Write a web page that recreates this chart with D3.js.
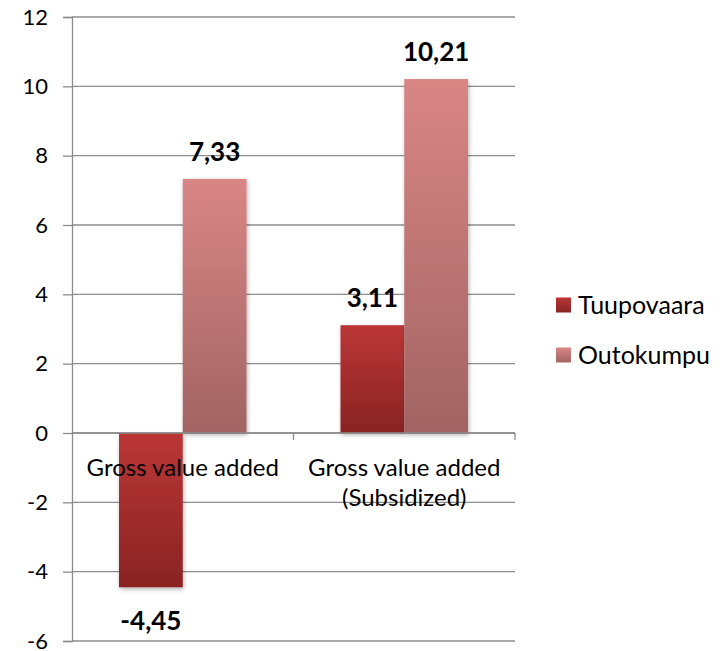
<!DOCTYPE html>
<html><head><meta charset="utf-8">
<script src="https://cdn.jsdelivr.net/npm/d3@7"></script>
<style>body{margin:0;background:#fff}svg{display:block}text{font-family:Lato,"Open Sans",sans-serif}</style>
</head><body><svg id="c" width="725" height="651"></svg>
<script>
const categories = [["Gross value added"], ["Gross value added", "(Subsidized)"]];
const seriesNames = ["Tuupovaara", "Outokumpu"];
const tuupovaara = [-4.45, 3.11];
const outokumpu = [7.33, 10.21];
const yTicks = [-6, -4, -2, 0, 2, 4, 6, 8, 10, 12];

const fmt = v => String(v.toFixed(2)).replace(".", ",");

const svg = d3.select("#c");
const L = 72, R = 515, T = 17, B = 641;
const y = d3.scaleLinear().domain([-6, 12]).range([B, T]);
const x0 = d3.scaleBand().domain([0, 1]).range([L, R]).paddingInner(0).paddingOuter(0);
const x1 = d3.scaleBand().domain([0, 1]).range([47, x0.bandwidth() - 47]);

const defs = svg.append("defs");
const g1 = defs.append("linearGradient").attr("id", "gT").attr("x1", 0).attr("y1", 0).attr("x2", 0).attr("y2", 1);
g1.append("stop").attr("offset", 0).attr("stop-color", "#bb3636");
g1.append("stop").attr("offset", 1).attr("stop-color", "#8a2323");
const g2 = defs.append("linearGradient").attr("id", "gO").attr("x1", 0).attr("y1", 0).attr("x2", 0).attr("y2", 1);
g2.append("stop").attr("offset", 0).attr("stop-color", "#d98685");
g2.append("stop").attr("offset", 1).attr("stop-color", "#a16463");
const f = defs.append("filter").attr("id", "sh").attr("x", -0.2).attr("y", -0.2).attr("width", 1.4).attr("height", 1.4);
f.append("feDropShadow").attr("dx", 1).attr("dy", 2).attr("stdDeviation", 2).attr("flood-color", "#000").attr("flood-opacity", 0.3);

// grid
svg.append("g").selectAll("line").data(yTicks).join("line")
  .attr("x1", L).attr("x2", R).attr("y1", d => y(d)).attr("y2", d => y(d))
  .attr("stroke", "#8c8c8c").attr("stroke-width", 1.3);

// y axis
const ya = svg.append("g").attr("transform", `translate(${L},0)`)
  .call(d3.axisLeft(y).tickValues(yTicks).tickSize(9).tickPadding(15).tickFormat(d => d));
ya.select(".domain").attr("stroke", "#8c8c8c").attr("stroke-width", 1.3);
ya.selectAll(".tick line").attr("stroke", "#8c8c8c").attr("stroke-width", 1.3);
ya.selectAll("text").attr("font-size", 22).attr("fill", "#000").style("font-family", "Lato,'Open Sans',sans-serif");

const data = [];
[tuupovaara, outokumpu].forEach((s, si) => s.forEach((v, ci) => data.push({si, ci, v})));

// bars
svg.append("g").selectAll("rect").data(data).join("rect")
  .attr("x", d => x0(d.ci) + x1(d.si))
  .attr("width", x1.bandwidth())
  .attr("y", d => y(Math.max(0, d.v)))
  .attr("height", d => Math.abs(y(d.v) - y(0)))
  .attr("fill", d => d.si === 0 ? "url(#gT)" : "url(#gO)")
  .attr("filter", "url(#sh)");

// zero axis with category ticks
svg.append("line").attr("x1", L).attr("x2", R).attr("y1", y(0)).attr("y2", y(0))
  .attr("stroke", "#8c8c8c").attr("stroke-width", 1.3);
svg.append("g").selectAll("line").data([1, 2]).join("line")
  .attr("x1", d => L + d * x0.bandwidth()).attr("x2", d => L + d * x0.bandwidth())
  .attr("y1", y(0)).attr("y2", y(0) + 7).attr("stroke", "#8c8c8c").attr("stroke-width", 1.3);

// category labels
categories.forEach((lines, ci) => {
  lines.forEach((t, li) => {
    svg.append("text").attr("x", x0(ci) + x0.bandwidth() / 2).attr("y", y(0) + 43 + li * 30)
      .attr("text-anchor", "middle").attr("font-size", 24).attr("fill", "#000").text(t);
  });
});

// value labels
svg.append("g").selectAll("text").data(data).join("text")
  .attr("x", d => x0(d.ci) + x1(d.si) + x1.bandwidth() / 2)
  .attr("y", d => d.v >= 0 ? y(d.v) - 18 : y(d.v) + 43)
  .attr("text-anchor", "middle").attr("font-size", 26).attr("font-weight", "bold").attr("fill", "#000")
  .text(d => fmt(d.v));

// legend
const lg = svg.append("g");
seriesNames.forEach((n, i) => {
  const yy = 305 + i * 50;
  lg.append("rect").attr("x", 556).attr("y", yy - 7.5).attr("width", 15).attr("height", 15)
    .attr("fill", i === 0 ? "url(#gT)" : "url(#gO)");
  lg.append("text").attr("x", 578).attr("y", yy + 8.5).attr("font-size", 25).attr("fill", "#000").text(n);
});
</script></body></html>
